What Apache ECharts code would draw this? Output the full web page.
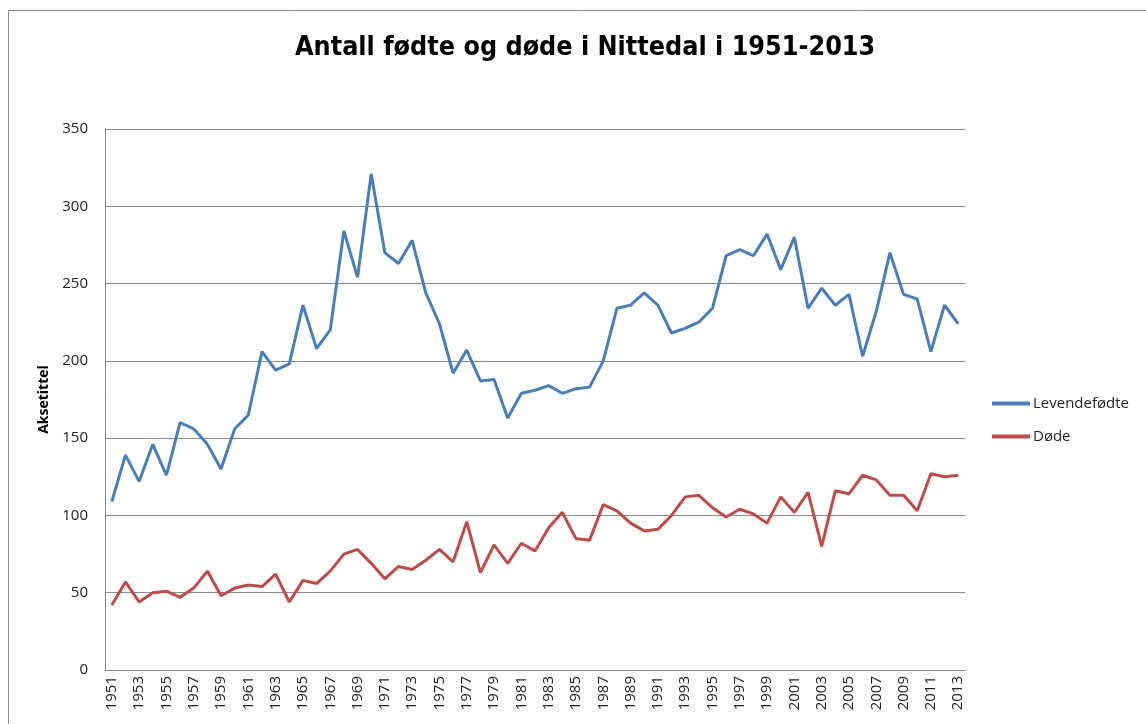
<!DOCTYPE html>
<html>
<head>
<meta charset="utf-8">
<script src="https://cdn.jsdelivr.net/npm/echarts@6/dist/echarts.min.js"></script>
<style>
  html, body { margin: 0; padding: 0; background: #fff; }
  #chart { width: 1146px; height: 724px; }
</style>
</head>
<body>
<div id="chart"></div>
<script>
const years = [];
for (let y = 1951; y <= 2013; y++) years.push(String(y));

// Levendefødte 1951-2013
const born = [
  109, 139, 122, 146, 126, 160, 156, 146, 130, 156,
  165, 206, 194, 198, 236, 208, 220, 284, 254, 321,
  270, 263, 278, 244, 224, 192, 207, 187, 188, 163,
  179, 181, 184, 179, 182, 183, 200, 234, 236, 244,
  236, 218, 221, 225, 234, 268, 272, 268, 282, 259,
  280, 234, 247, 236, 243, 203, 232, 270, 243, 240,
  206, 236, 224
];

// Døde 1951-2013
const dead = [
  42, 57, 44, 50, 51, 47, 53, 64, 48, 53,
  55, 54, 62, 44, 58, 56, 64, 75, 78, 69,
  59, 67, 65, 71, 78, 70, 96, 63, 81, 69,
  82, 77, 92, 102, 85, 84, 107, 103, 95, 90,
  91, 100, 112, 113, 105, 99, 104, 101, 95, 112,
  102, 115, 80, 116, 114, 126, 123, 113, 113, 103,
  127, 125, 126
];

const seriesNames = ["Levendefødte", "Døde"];

const chart = echarts.init(document.getElementById("chart"), null, { renderer: "canvas" });
const labelFont = "'Open Sans', 'Liberation Sans', sans-serif";

chart.setOption({
  animation: false,
  color: ["#4a7ebb", "#be4b48"],
  title: {
    text: "Antall fødte og døde i Nittedal i 1951-2013",
    left: 290,
    top: 30,
    textStyle: {
      fontFamily: "'Liberation Sans Narrow', 'DejaVu Sans Condensed', sans-serif",
      fontWeight: "bold",
      fontSize: 26.7,
      color: "#000"
    }
  },
  graphic: [{
    type: "rect",
    shape: { x: 8.5, y: 10.5, width: 1150, height: 730 },
    style: { fill: "none", stroke: "#8c8c8c", lineWidth: 1 },
    silent: true
  }],
  grid: { left: 105, right: 181, top: 129, bottom: 54 },
  legend: {
    orient: "vertical",
    left: 992,
    top: 396,
    padding: 0,
    itemGap: 18,
    itemWidth: 38,
    itemHeight: 4,
    icon: "rect",
    data: seriesNames,
    textStyle: { fontFamily: labelFont, fontSize: 15, color: "#222", padding: [0, 0, 0, -2] }
  },
  xAxis: {
    type: "category",
    boundaryGap: true,
    data: years,
    axisLine: { lineStyle: { color: "#868686" } },
    axisTick: { show: false },
    axisLabel: {
      interval: 1,
      rotate: 90,
      margin: 6,
      fontFamily: labelFont,
      fontSize: 15,
      color: "#222"
    },
    splitLine: { show: false }
  },
  yAxis: {
    type: "value",
    min: 0,
    max: 350,
    interval: 50,
    name: "Aksetittel",
    nameLocation: "middle",
    nameGap: 48,
    nameTextStyle: { fontFamily: labelFont, fontWeight: "bold", fontSize: 14, color: "#000" },
    axisLine: { show: true, lineStyle: { color: "#868686" } },
    axisTick: { show: false },
    axisLabel: { margin: 17, fontFamily: labelFont, fontSize: 15, color: "#222" },
    splitLine: { lineStyle: { color: "#8a8a8a", width: 1 } }
  },
  series: [
    {
      name: seriesNames[0],
      type: "line",
      data: born,
      symbol: "none",
      lineStyle: { width: 3 }
    },
    {
      name: seriesNames[1],
      type: "line",
      data: dead,
      symbol: "none",
      lineStyle: { width: 3 }
    }
  ]
});
</script>
</body>
</html>
